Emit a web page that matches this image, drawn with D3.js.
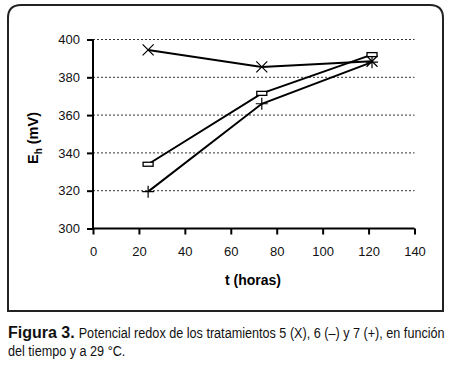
<!DOCTYPE html>
<html><head><meta charset="utf-8">
<script src="https://cdn.jsdelivr.net/npm/d3@7"></script>
<style>body{margin:0;background:#fff}svg{display:block}</style>
</head><body>
<svg id="c" width="450" height="366"></svg>
<script>
const hours = [24, 73.5, 121.5];
const trat5 = [394.5, 385.5, 388.5];
const trat6 = [334, 371.5, 392];
const trat7 = [319.5, 366, 388];
const xTicks = [0,20,40,60,80,100,120,140];
const yTicks = [300,320,340,360,380,400];

const svg = d3.select("#c");
const fx0=8, fy0=5, fx1=443, fy1=311, r=13;
svg.append("path")
  .attr("d",`M${fx0},${fy1} L${fx0},${fy0+r} Q${fx0},${fy0} ${fx0+r},${fy0} L${fx1-r},${fy0} Q${fx1},${fy0} ${fx1},${fy0+r} L${fx1},${fy1} Z`)
  .attr("fill","#fff").attr("stroke","#222").attr("stroke-width",2);

const x = d3.scaleLinear().domain([0,140]).range([93,414.5]);
const y = d3.scaleLinear().domain([300,400]).range([228.5,39.5]);

const g = svg.append("g");
g.selectAll("line.grid").data(yTicks.filter(v=>v>300)).enter().append("line")
  .attr("x1",x(0)).attr("x2",x(140)).attr("y1",d=>y(d)).attr("y2",d=>y(d))
  .attr("stroke","#333").attr("stroke-width",1).attr("stroke-dasharray","2,2");

const font = "'Liberation Sans', Arial, sans-serif";
const yAxis = d3.axisLeft(y).tickValues(yTicks).tickSize(6).tickPadding(7);
const xAxis = d3.axisBottom(x).tickValues(xTicks).tickSize(6).tickPadding(12);
const ya = g.append("g").attr("transform",`translate(${x(0)},0)`).call(yAxis);
const xa = g.append("g").attr("transform",`translate(0,${y(300)})`).call(xAxis);
[ya,xa].forEach(a=>{
  a.select(".domain").attr("stroke","#000").attr("stroke-width",2);
  a.selectAll(".tick line").attr("stroke","#000").attr("stroke-width",2);
  a.selectAll("text").attr("font-family",font).attr("font-size",13).attr("fill","#111");
});
ya.select(".domain").attr("d",`M0,${y(300)}V${y(400)}`);
xa.select(".domain").attr("d",`M${x(0)},0H${x(140)}`);

const line = d3.line().x(d=>x(d[0])).y(d=>y(d[1]));
[trat5,trat6,trat7].forEach(s=>{
  g.append("path").datum(hours.map((h,i)=>[h,s[i]])).attr("d",line)
   .attr("fill","none").attr("stroke","#000").attr("stroke-width",2);
});
trat5.forEach((v,i)=>{
  const cx=x(hours[i]), cy=y(v), s=5.5;
  g.append("path").attr("d",`M${cx-s},${cy-s}L${cx+s},${cy+s}M${cx-s},${cy+s}L${cx+s},${cy-s}`)
   .attr("stroke","#000").attr("stroke-width",1.2);
});
trat6.forEach((v,i)=>{
  const cx=x(hours[i]), cy=y(v);
  g.append("rect").attr("x",cx-5).attr("y",cy-2).attr("width",10).attr("height",4)
   .attr("fill","#fff").attr("stroke","#000").attr("stroke-width",1.3);
});
trat7.forEach((v,i)=>{
  const cx=x(hours[i]), cy=y(v), s=6;
  g.append("path").attr("d",`M${cx-s},${cy}L${cx+s},${cy}M${cx},${cy-s}L${cx},${cy+s}`)
   .attr("stroke","#000").attr("stroke-width",1.2);
});

svg.append("text").attr("x",253).attr("y",285).attr("text-anchor","middle")
  .attr("font-family",font).attr("font-weight","bold").attr("font-size",14).text("t (horas)");
const yl = svg.append("text").attr("transform","translate(38,138) rotate(-90)").attr("text-anchor","middle")
  .attr("font-family",font).attr("font-weight","bold").attr("font-size",14.5);
yl.append("tspan").text("E");
yl.append("tspan").attr("font-size",10).attr("dy",4).text("h");
yl.append("tspan").attr("dy",-4).text(" (mV)");

// caption
function mk(str, size, bold){
  return svg.append("text").attr("x",0).attr("y",0)
    .attr("font-family",font).attr("font-size",size).attr("fill","#111")
    .attr("font-weight",bold?"bold":"normal").text(str);
}
const b = mk("Figura 3.", 16, true);
const bw = b.node().getComputedTextLength();
const bs = Math.min(1, 77/bw);
b.attr("transform",`translate(8,338) scale(${bs},1)`);
const rx = 8 + bw*bs + 4;
const r1 = mk("Potencial redox de los tratamientos 5 (X), 6 (\u2013) y 7 (+), en función", 15.5, false);
const sc = (445-rx)/r1.node().getComputedTextLength();
r1.attr("transform",`translate(${rx},338) scale(${sc},1)`);
const r2 = mk("del tiempo y a 29 °C.", 15.5, false);
r2.attr("transform",`translate(8,356) scale(${sc},1)`);
</script>
</body></html>
